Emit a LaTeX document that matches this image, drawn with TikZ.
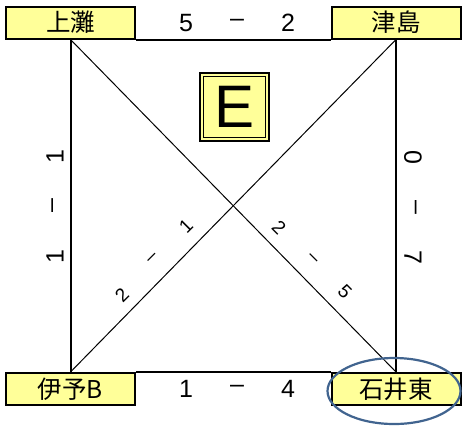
\documentclass[tikz,border=0pt]{standalone}
\usepackage{fontspec}
\setmainfont{Liberation Sans}
\newfontfamily\jp{Noto Sans CJK JP}
\usetikzlibrary{shapes.geometric}
\definecolor{boxyellow}{HTML}{FFFF99}
\definecolor{ringblue}{HTML}{41648F}
\begin{document}
\begin{tikzpicture}[x=1pt,y=-1pt,
  team/.style={draw=black, line width=2pt, fill=boxyellow, minimum width=129pt, minimum height=32pt, inner sep=0pt, font=\jp\fontsize{24.5}{24.5}\selectfont},
  score/.style={inner sep=0pt, font=\fontsize{25}{25}\selectfont},
  dscore/.style={inner sep=0pt, font=\fontsize{19}{19}\selectfont},
  frame/.style={line width=2pt},
  diag/.style={line width=1pt}]
\useasboundingbox (0,0) rectangle (462,426);
\node[team] (ue) at (70.5,22.5) {上灘};
\node[team] (tsu) at (396,22.5) {津島};
\node[team] (iyo) at (70.5,389) {伊予B};
\node[team] (ishii) at (396,389) {石井東};
\draw[diag] (ue.south) -- (ishii.north);
\draw[diag] (tsu.south) -- (iyo.north);
\draw[frame] (ue.south) -- (iyo.north);
\draw[frame] (tsu.south) -- (ishii.north);
\draw[frame] (ue.south east) -- (tsu.south west);
\draw[frame] (iyo.north east) -- (ishii.north west);
% redraw boxes on top of line ends
\node[team] at (ue) {上灘};
\node[team] at (tsu) {津島};
\node[team] at (iyo) {伊予B};
\node[team] at (ishii) {石井東};
% group box
\node[draw=black, line width=2pt, fill=boxyellow, minimum width=69pt, minimum height=68pt, inner sep=0pt] (grp) at (234.5,107) {};
\node[draw=black, line width=0.8pt, minimum width=62pt, minimum height=61pt, inner sep=0pt, font=\fontsize{60}{60}\selectfont] (grpE) at (grp) {E};
% top score
\node[score] (t1) at (186,23) {5};
\node[score] (t2) at (237,23) {–};
\node[score] (t3) at (288,23) {2};
% bottom score
\node[score] (b1) at (186,389) {1};
\node[score] (b2) at (237,389) {–};
\node[score] (b3) at (288,389) {4};
% left score
\node[score,rotate=90] (l1) at (55,257) {1};
\node[score,rotate=90] (l2) at (55,206) {–};
\node[score,rotate=90] (l3) at (55,157) {1};
% right score
\node[score,rotate=-90] (r1) at (413,157) {0};
\node[score,rotate=-90] (r2) at (413,207) {–};
\node[score,rotate=-90] (r3) at (413,257) {7};
% anti-diagonal score
\node[dscore,rotate=45] (a1) at (122,295) {2};
\node[dscore,rotate=45] (a2) at (153,259) {–};
\node[dscore,rotate=45] (a3) at (186,226) {1};
% main diagonal score
\node[dscore,rotate=-45] (m1) at (279,228) {2};
\node[dscore,rotate=-45] (m2) at (312,259) {–};
\node[dscore,rotate=-45] (m3) at (345,292) {5};
% ring
\node[draw=ringblue, line width=2.2pt, ellipse, minimum width=133pt, minimum height=66pt, inner sep=0pt] (ring) at (394,391) {};
\end{tikzpicture}
\end{document}
